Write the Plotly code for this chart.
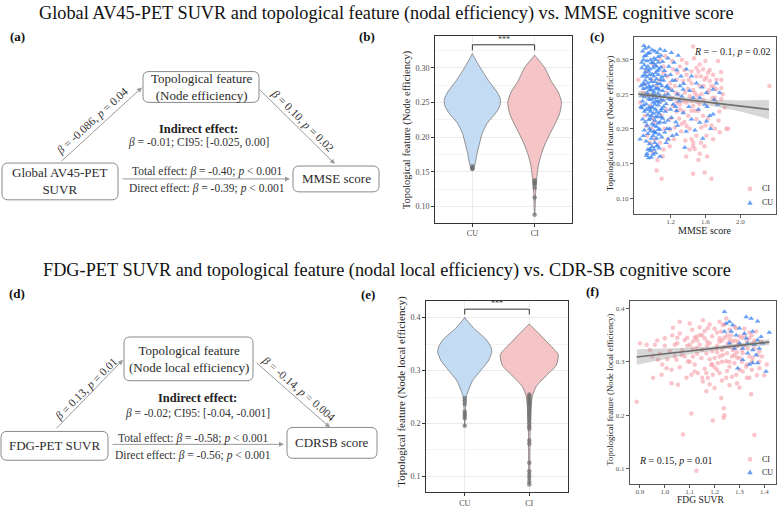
import plotly.graph_objects as go

W, H = 777, 508
def px(x): return x / W
def py(y): return 1 - y / H

SERIF = "Liberation Serif, Times New Roman, serif"

# ---------------- DATA ----------------
groups = ["CU", "CI"]

# (b) violin profiles: feature level and relative density (max = 1)
b_cu_levels = [0.153, 0.16, 0.175, 0.19, 0.205, 0.22, 0.235, 0.245, 0.255, 0.265, 0.28, 0.30, 0.32]
b_cu_dens   = [0.0, 0.09, 0.16, 0.25, 0.35, 0.53, 0.84, 0.98, 1.0, 0.88, 0.60, 0.28, 0.0]
b_ci_levels = [0.088, 0.10, 0.12, 0.14, 0.16, 0.175, 0.19, 0.205, 0.22, 0.235, 0.25, 0.265, 0.28, 0.30, 0.318]
b_ci_dens   = [0.0, 0.02, 0.035, 0.07, 0.14, 0.235, 0.375, 0.55, 0.74, 0.90, 0.96, 0.84, 0.60, 0.36, 0.0]
# (b) box statistics [CU, CI]
b_q1 = [0.227, 0.219]
b_med = [0.253, 0.244]
b_q3 = [0.271, 0.264]
b_lo = [0.160, 0.150]
b_hi = [0.320, 0.318]
b_out_cu = [0.158, 0.156, 0.155, 0.154]
b_out_ci = [0.138, 0.136, 0.134, 0.132, 0.127, 0.113, 0.088]

# (e) violin profiles
e_cu_levels = [0.195, 0.22, 0.25, 0.26, 0.28, 0.30, 0.32, 0.335, 0.345, 0.36, 0.38, 0.40]
e_cu_dens   = [0.0, 0.02, 0.05, 0.11, 0.26, 0.55, 0.83, 0.93, 0.90, 0.72, 0.31, 0.0]
e_ci_levels = [0.085, 0.10, 0.15, 0.20, 0.25, 0.27, 0.29, 0.31, 0.33, 0.34, 0.35, 0.37, 0.388]
e_ci_dens   = [0.0, 0.02, 0.025, 0.035, 0.10, 0.24, 0.58, 0.93, 1.0, 0.86, 0.68, 0.33, 0.0]
e_q1 = [0.316, 0.311]
e_med = [0.336, 0.328]
e_q3 = [0.355, 0.347]
e_lo = [0.257, 0.260]
e_hi = [0.400, 0.388]
e_out_cu = [0.248, 0.243, 0.237, 0.222, 0.218, 0.214, 0.210, 0.196]
e_out_ci = [0.255, 0.252, 0.249, 0.246, 0.243, 0.240, 0.237, 0.234, 0.230, 0.226, 0.222,
            0.218, 0.214, 0.210, 0.205, 0.200, 0.195, 0.190, 0.168, 0.162, 0.126, 0.110,
            0.103, 0.097, 0.090, 0.085]

# (c) scatter: MMSE score vs node efficiency
c_ci_pts = [(0.83,0.271),(1.459,0.319),(1.745,0.298),(1.497,0.288),(1.573,0.286),(1.63,0.281),
    (1.688,0.278),(1.726,0.271),(1.783,0.271),(2.335,0.262),(1.612,0.274),(1.497,0.276),(1.383,0.278),
    (1.269,0.271),(1.192,0.266),(1.345,0.269),(1.44,0.266),(1.535,0.262),(1.669,0.262),(1.63,0.252),
    (1.707,0.245),(1.783,0.243),(1.821,0.231),(1.84,0.2),(1.764,0.195),(1.688,0.185),(1.612,0.19),
    (1.554,0.202),(1.497,0.19),(1.44,0.185),(1.459,0.175),(1.478,0.171),(1.535,0.164),(1.459,0.135),
    (1.592,0.137),(1.669,0.128),(1.097,0.128),(1.04,0.14),(1.002,0.166),(0.964,0.18),(1.02,0.209),
    (1.097,0.219),(1.154,0.228),(1.23,0.233),(1.307,0.235),(1.383,0.238),(1.459,0.233),(1.516,0.226),
    (1.573,0.219),(1.402,0.219),(1.326,0.207),(1.25,0.202),(1.192,0.199),(1.383,0.204),(1.44,0.226),
    (1.497,0.214),(1.154,0.252),(1.212,0.245),(1.288,0.25),(1.364,0.252),(1.421,0.247),(1.478,0.252),
    (1.554,0.25),(1.497,0.24),(1.345,0.24),(1.269,0.238),(0.964,0.233),(0.907,0.219),(0.926,0.204),
    (0.888,0.252),(0.85,0.238),(0.983,0.271),(1.04,0.262),(1.116,0.281),(1.078,0.3),(1.002,0.293),
    (0.926,0.283),(1.23,0.286),(1.307,0.29),(1.383,0.295),(1.44,0.283),(1.535,0.293),(1.592,0.271),
    (1.65,0.269),(1.726,0.257),(1.783,0.259),(1.86,0.2),(1.12,0.17),(1.08,0.18),(1.05,0.155),
    (1.52,0.155),(1.62,0.16),(1.3,0.215),(1.35,0.225),(1.2,0.215),
    (1.12,0.29),(1.16,0.276),(1.2,0.258),(1.25,0.262),(1.28,0.281),(1.33,0.3),(1.36,0.285),
    (1.41,0.271),(1.46,0.256),(1.5,0.248),(1.55,0.276),(1.6,0.298),(1.64,0.256),(1.68,0.245),
    (1.72,0.238),(1.76,0.225),(1.8,0.25),(1.47,0.302),(1.52,0.283),(1.58,0.262),(1.27,0.225),
    (1.32,0.196),(1.37,0.183),(1.42,0.2),(1.48,0.226),(1.53,0.236),(1.58,0.242),(1.63,0.215),
    (1.67,0.205),(1.71,0.2),(1.75,0.212),(1.59,0.175),(1.55,0.18),(1.42,0.17),(1.38,0.16),
    (1.17,0.185),(1.13,0.2),(1.09,0.24),(1.07,0.27),(1.14,0.305),(1.22,0.298),(1.26,0.252),
    (1.31,0.228),(1.36,0.21),(1.4,0.258),(1.44,0.24),(1.65,0.285),(1.7,0.26),(1.78,0.282),
    (0.95,0.248),(0.9,0.265),(0.98,0.2),(1.0,0.215),(1.02,0.185),(0.93,0.19),(1.11,0.16),
    (1.19,0.175),(1.24,0.185),(1.6,0.205),(1.46,0.18)]
c_cu_pts = [(0.895,0.32),(1.02,0.312),(1.135,0.313),(1.288,0.306),(1.17,0.302),(1.383,0.286),
    (1.44,0.276),(1.497,0.266),(1.307,0.262),(1.345,0.257),(1.42,0.255),(1.612,0.252),(1.688,0.257),
    (1.764,0.252),(1.726,0.266),(1.535,0.245),(1.592,0.235),(1.65,0.219),(1.688,0.221),(1.612,0.211),
    (1.535,0.209),(1.44,0.214),(1.345,0.223),(1.269,0.226),(1.212,0.216),(1.135,0.195),(1.269,0.192),
    (1.173,0.185),(1.078,0.199),(1.02,0.195),(0.964,0.171),(0.926,0.161),(0.85,0.185),(1.364,0.173),
    (1.04,0.175),(0.888,0.19),
    (0.90,0.305),(0.93,0.298),(0.96,0.31),(0.98,0.295),(1.01,0.302),(1.04,0.29),(0.92,0.287),
    (0.95,0.283),(0.99,0.279),(1.03,0.281),(1.07,0.286),(1.10,0.275),(0.91,0.27),(0.94,0.266),
    (0.97,0.272),(1.00,0.262),(1.02,0.268),(1.05,0.259),(1.08,0.265),(1.12,0.27),(0.89,0.258),
    (0.93,0.252),(0.96,0.256),(0.99,0.248),(1.01,0.254),(1.04,0.245),(1.06,0.251),(1.09,0.242),
    (1.13,0.248),(0.88,0.24),(0.92,0.236),(0.95,0.243),(0.98,0.232),(1.00,0.238),(1.03,0.228),
    (1.06,0.234),(1.10,0.229),(1.15,0.236),(0.90,0.225),(0.94,0.22),(0.97,0.215),(1.00,0.222),
    (1.02,0.212),(1.05,0.218),(1.08,0.21),(1.11,0.215),(0.93,0.205),(0.96,0.2),(0.99,0.207),
    (1.01,0.196),(1.04,0.203),(1.07,0.192),(0.98,0.186),(1.02,0.18),(1.05,0.176),(0.97,0.168),
    (1.00,0.163),(0.95,0.158),(1.03,0.165),(1.18,0.29),(1.20,0.278),(1.16,0.262),(1.22,0.255),
    (1.25,0.27),(1.28,0.25),(1.18,0.244),(1.14,0.225),(1.17,0.212),(1.19,0.2),(1.23,0.235),
    (1.30,0.24),(1.26,0.21),(0.87,0.296),(0.905,0.278),(0.94,0.309),(1.06,0.296),(1.09,0.306),
    (0.87,0.23),(0.885,0.265),(0.97,0.26),(1.11,0.255),(1.03,0.24),(0.96,0.228),(1.07,0.222),
    (0.88,0.312),(0.91,0.316),(0.95,0.318),(0.99,0.314),(1.05,0.31),(1.08,0.315),(0.89,0.3),
    (0.92,0.306),(0.97,0.3),(1.00,0.296),(1.03,0.3),(1.06,0.304),(1.11,0.297),(0.87,0.288),
    (0.9,0.292),(0.94,0.29),(0.96,0.286),(1.0,0.288),(1.02,0.292),(1.05,0.284),(1.09,0.289),
    (1.13,0.284),(0.88,0.276),(0.91,0.282),(0.93,0.275),(0.96,0.278),(0.98,0.268),(1.01,0.276),
    (1.04,0.272),(1.06,0.278),(1.09,0.271),(1.14,0.277),(0.86,0.262),(0.9,0.264),(0.92,0.259),
    (0.95,0.261),(0.98,0.256),(1.0,0.25),(1.03,0.258),(1.05,0.265),(1.07,0.256),(1.1,0.262),
    (1.15,0.26),(0.87,0.248),(0.9,0.246),(0.94,0.248),(0.97,0.242),(1.0,0.244),(1.02,0.249),
    (1.05,0.24),(1.08,0.247),(1.12,0.241),(1.17,0.25),(0.86,0.232),(0.89,0.234),(0.92,0.228),
    (0.95,0.231),(0.97,0.225),(1.0,0.23),(1.02,0.235),(1.04,0.224),(1.07,0.238),(1.09,0.226),
    (1.12,0.232),(1.2,0.228),(0.88,0.214),(0.91,0.21),(0.95,0.213),(0.98,0.219),(1.01,0.205),
    (1.03,0.217),(1.06,0.208),(1.09,0.217),(1.13,0.209),(0.9,0.198),(0.94,0.193),(0.97,0.197),
    (1.0,0.19),(1.03,0.194),(1.06,0.199),(1.1,0.188),(0.92,0.182),(0.96,0.178),(0.99,0.174),
    (1.04,0.186),(1.07,0.172),(0.94,0.17),(0.98,0.159),(1.01,0.17),(1.08,0.16),(0.93,0.164),
    (1.21,0.31),(1.24,0.296),(1.27,0.285),(1.22,0.27),(1.32,0.276),(1.35,0.265),(1.18,0.258),
    (1.2,0.242),(1.26,0.232),(1.33,0.247),(1.16,0.2),(1.22,0.19),(1.28,0.205),(1.15,0.18),
    (1.38,0.196),(1.41,0.232),(1.46,0.245),(1.52,0.228),(1.56,0.26),(1.62,0.232),(1.7,0.242),
    (1.74,0.235),(1.48,0.198),(1.57,0.186),(1.66,0.2)]
c_fit_x = [0.83, 1.2, 1.6, 2.0, 2.33]
c_fit_y = [0.2503, 0.2448, 0.2388, 0.2329, 0.2280]
c_fit_se = [0.005, 0.003, 0.004, 0.008, 0.014]

# (f) scatter: FDG SUVR vs node local efficiency
f_ci_pts = [(0.887,0.225),(0.9,0.335),(1.107,0.203),(1.073,0.164),(1.127,0.096),(1.193,0.19),
    (1.237,0.213),(1.236,0.195),(1.24,0.2),(1.26,0.256),(1.36,0.163),(1.347,0.239),(1.2,0.251),
    (1.22,0.279),(1.167,0.279),(1.227,0.232),(1.3,0.252),(1.353,0.307),(0.94,0.322),(0.96,0.332),
    (1.0,0.344),(1.033,0.364),(1.06,0.353),(1.04,0.332),(1.007,0.288),(1.027,0.285),(1.047,0.304),
    (1.067,0.313),(1.093,0.301),(1.1,0.332),(1.113,0.338),(1.127,0.347),(1.14,0.35),(1.153,0.378),
    (1.16,0.344),(1.173,0.363),(1.18,0.335),(1.12,0.282),(1.133,0.279),(1.107,0.276),(1.087,0.27),
    (1.147,0.307),(1.167,0.316),(1.187,0.294),(1.2,0.307),(1.207,0.325),(1.22,0.344),(1.227,0.357),
    (1.233,0.369),(1.247,0.381),(1.253,0.335),(1.267,0.35),(1.273,0.322),(1.28,0.313),(1.287,0.363),
    (1.293,0.338),(1.3,0.307),(1.313,0.316),(1.32,0.35),(1.327,0.291),(1.333,0.325),(1.34,0.344),
    (1.353,0.335),(1.367,0.357),(1.373,0.313),(1.38,0.288),(1.387,0.338),(1.233,0.313),(1.247,0.301),
    (1.26,0.291),(1.213,0.298),(1.193,0.276),(1.173,0.27),(1.153,0.263),(1.247,0.27),(1.287,0.276),
    (1.313,0.282),(1.34,0.27),(1.053,0.257),(1.027,0.26),(1.167,0.245),(1.127,0.326),(1.113,0.31),
    (1.08,0.341),(0.973,0.304),(0.987,0.276),(0.953,0.27),(0.927,0.332),(1.21,0.33),(1.23,0.322),
    (1.25,0.316),(1.22,0.338),(1.24,0.345),(1.26,0.328),(1.28,0.34),(1.30,0.332),(1.29,0.318),
    (1.31,0.345),(1.27,0.31),(1.19,0.348),(1.17,0.33),(1.15,0.322),(1.13,0.315),(1.21,0.355),
    (1.26,0.36),(1.32,0.362),(1.34,0.31),(1.36,0.325),(1.18,0.305),(1.23,0.3),(1.33,0.295),
    (1.35,0.285),(1.38,0.3),(1.11,0.36),(1.09,0.345),(1.05,0.335),(1.02,0.32),(1.08,0.31),
    (1.12,0.295),(1.20,0.29),(1.16,0.287),(1.28,0.298),(1.30,0.285),(1.25,0.283),(1.37,0.275),
    (1.14,0.365),(1.10,0.372),(1.06,0.375),(1.0,0.33),(0.98,0.315),
    (1.21,0.318),(1.23,0.34),(1.25,0.35),(1.27,0.338),(1.29,0.33),(1.31,0.322),(1.33,0.34),
    (1.35,0.35),(1.19,0.32),(1.17,0.338),(1.15,0.35),(1.13,0.34),(1.11,0.325),(1.09,0.33),
    (1.07,0.322),(1.05,0.345),(1.03,0.35),(1.01,0.305),(0.99,0.295),(1.22,0.31),(1.24,0.328),
    (1.26,0.343),(1.28,0.325),(1.3,0.348),(1.32,0.33),(1.34,0.355),(1.36,0.34),(1.38,0.32),
    (1.2,0.362),(1.18,0.37),(1.16,0.358),(1.24,0.37),(1.28,0.366),(1.22,0.375),(1.12,0.345),
    (1.14,0.332),(1.19,0.296),(1.21,0.285),(1.26,0.3),(1.31,0.3),(1.29,0.308),(1.35,0.3),
    (1.39,0.31),(1.23,0.265),(1.27,0.272),(1.1,0.3),(1.06,0.29),(1.04,0.31),(0.97,0.34),
    (0.95,0.31),(1.4,0.275),(1.41,0.295),(1.18,0.258),(1.33,0.27),(1.29,0.26),(1.15,0.27)]
f_cu_pts = [(1.24,0.394),(1.26,0.375),(1.273,0.369),(1.247,0.372),(1.327,0.384),(1.347,0.381),
    (1.373,0.376),(1.353,0.357),(1.287,0.35),(1.267,0.357),(1.3,0.335),(1.313,0.325),(1.333,0.335),
    (1.353,0.322),(1.373,0.341),(1.387,0.347),(1.42,0.355),(1.393,0.335),(1.407,0.282),(1.293,0.288),
    (1.313,0.304),(1.333,0.316),(1.353,0.298),(1.373,0.298),(1.34,0.295),(1.26,0.335),(1.28,0.325),
    (1.32,0.353),(1.36,0.332),(1.3,0.363),(1.38,0.325),(1.367,0.313),(1.327,0.344),(1.24,0.357)]
f_fit_x = [0.887, 1.0, 1.1, 1.2, 1.3, 1.42]
f_fit_y = [0.309, 0.3149, 0.3202, 0.3254, 0.3307, 0.337]
f_fit_se = [0.0145, 0.0095, 0.006, 0.004, 0.004, 0.006]

# ---------------- STYLE ----------------
CU_FILL = "rgb(196,219,244)"
CI_FILL = "rgb(245,196,199)"
CU_PT = "rgba(55,130,240,0.75)"
CI_PT = "rgba(244,150,158,0.55)"
VW = 0.45

fig = go.Figure()

def add_violin_panel(xa, ya, prof, q1, med, q3, lo, hi, outs):
    for i, (lev, dens) in enumerate(prof):
        fill = CU_FILL if i == 0 else CI_FILL
        xs = [i + VW * d for d in dens] + [i - VW * d for d in reversed(dens)]
        ys = list(lev) + list(reversed(lev))
        fig.add_trace(go.Scatter(x=xs, y=ys, mode="lines", fill="toself", fillcolor=fill,
                                 line=dict(color="#7a7a7a", width=0.8, shape="spline", smoothing=0.6),
                                 xaxis=xa, yaxis=ya, showlegend=False, hoverinfo="skip"))
    fig.add_trace(go.Box(x=[0, 1], q1=q1, median=med, q3=q3, lowerfence=lo, upperfence=hi,
                         width=0.11, whiskerwidth=0, fillcolor="rgba(0,0,0,0)",
                         line=dict(color="#7f7f7f", width=1), boxpoints=False,
                         xaxis=xa, yaxis=ya, showlegend=False))
    for i, o in enumerate(outs):
        fig.add_trace(go.Scatter(x=[i] * len(o), y=o, mode="markers",
                                 marker=dict(color="rgba(110,110,110,0.7)", size=4.5),
                                 xaxis=xa, yaxis=ya, showlegend=False))

add_violin_panel("x", "y", [(b_cu_levels, b_cu_dens), (b_ci_levels, b_ci_dens)],
                 b_q1, b_med, b_q3, b_lo, b_hi, [b_out_cu, b_out_ci])
add_violin_panel("x3", "y3", [(e_cu_levels, e_cu_dens), (e_ci_levels, e_ci_dens)],
                 e_q1, e_med, e_q3, e_lo, e_hi, [e_out_cu, e_out_ci])

def add_scatter_panel(xa, ya, ci_pts, cu_pts, fx, fy, fse):
    fig.add_trace(go.Scatter(x=[p[0] for p in ci_pts], y=[p[1] for p in ci_pts], mode="markers",
                             marker=dict(color=CI_PT, size=4.5, symbol="circle"),
                             xaxis=xa, yaxis=ya, showlegend=False, name="CI"))
    fig.add_trace(go.Scatter(x=[p[0] for p in cu_pts], y=[p[1] for p in cu_pts], mode="markers",
                             marker=dict(color=CU_PT, size=5, symbol="triangle-up"),
                             xaxis=xa, yaxis=ya, showlegend=False, name="CU"))
    up = [a + b for a, b in zip(fy, fse)]
    dn = [a - b for a, b in zip(fy, fse)]
    fig.add_trace(go.Scatter(x=list(fx) + list(reversed(fx)), y=up + list(reversed(dn)),
                             mode="lines", fill="toself", fillcolor="rgba(140,140,140,0.35)",
                             line=dict(width=0), xaxis=xa, yaxis=ya, showlegend=False,
                             hoverinfo="skip"))
    fig.add_trace(go.Scatter(x=fx, y=fy, mode="lines", line=dict(color="#6e6e6e", width=1.6),
                             xaxis=xa, yaxis=ya, showlegend=False))

add_scatter_panel("x2", "y2", c_ci_pts, c_cu_pts, c_fit_x, c_fit_y, c_fit_se)
add_scatter_panel("x4", "y4", f_ci_pts, f_cu_pts, f_fit_x, f_fit_y, f_fit_se)

# ---------------- AXES ----------------
def vio_x(dom, anchor, size):
    return dict(domain=dom, anchor=anchor, range=[-0.6, 1.6], tickvals=[0, 1], ticktext=groups,
                showline=True, mirror=True, linecolor="#333333", linewidth=1,
                ticks="outside", ticklen=3, tickcolor="#333333", showgrid=True,
                gridcolor="#ebebeb", gridwidth=1, zeroline=False,
                tickfont=dict(family=SERIF, size=size, color="#4d4d4d"))

def vio_y(dom, anchor, rng, dtick, fmt, size):
    return dict(domain=dom, anchor=anchor, range=rng, dtick=dtick, tick0=0, tickformat=fmt,
                showline=True, mirror=True, linecolor="#333333", linewidth=1,
                ticks="outside", ticklen=3, tickcolor="#333333", showgrid=True,
                gridcolor="#ebebeb", gridwidth=1, zeroline=False,
                minor=dict(dtick=dtick / 2, tick0=0, showgrid=True, gridcolor="#f4f4f4", gridwidth=0.6),
                tickfont=dict(family=SERIF, size=size, color="#4d4d4d"))

def sc_ax(dom, anchor, rng, tickvals, fmt, size, standoff=0):
    return dict(domain=dom, anchor=anchor, range=rng, tickvals=tickvals, tickformat=fmt,
                showline=True, mirror=True, linecolor="#555555", linewidth=1,
                ticks="outside", ticklen=3, tickcolor="#555555", showgrid=False, zeroline=False,
                ticklabelstandoff=standoff,
                tickfont=dict(family=SERIF, size=size, color="#555555"))

fig.update_layout(
    xaxis=vio_x([px(435), px(572)], "y", 8),
    yaxis=vio_y([py(224), py(36)], "x", [0.0767, 0.346], 0.05, ".2f", 8),
    xaxis2=sc_ax([px(634), px(776)], "y2", [0.781, 2.41], [1.2, 1.6, 2.0], ".1f", 7, -2),
    yaxis2=sc_ax([py(215), py(37)], "x2", [0.0774, 0.333], [0.10, 0.15, 0.20, 0.25, 0.30], ".2f", 7),
    xaxis3=vio_x([px(426), px(568)], "y3", 8),
    yaxis3=vio_y([py(495), py(303)], "x3", [0.0705, 0.431], 0.1, ".1f", 8),
    xaxis4=sc_ax([px(630), px(776)], "y4", [0.86, 1.447], [0.9, 1.0, 1.1, 1.2, 1.3, 1.4], ".1f", 7, -3),
    yaxis4=sc_ax([py(487), py(303)], "x4", [0.0708, 0.4136], [0.1, 0.2, 0.3, 0.4], ".1f", 7),
)

# ---------------- ANNOTATIONS / SHAPES ----------------
ann = []
shapes = []

def text(x, y, t, size, color="#222222", angle=0, bold=False, xanchor="center"):
    if bold:
        t = "<b>" + t + "</b>"
    ann.append(dict(x=px(x), y=py(y), xref="paper", yref="paper", text=t, showarrow=False,
                    textangle=angle, xanchor=xanchor, yanchor="middle",
                    font=dict(family=SERIF, size=size, color=color)))

def arrow(tx, ty, hx, hy):
    ann.append(dict(x=px(hx), y=py(hy), xref="paper", yref="paper", text="",
                    showarrow=True, ax=tx - hx, ay=ty - hy, axref="pixel", ayref="pixel",
                    arrowhead=2, arrowsize=1, arrowwidth=1, arrowcolor="#9a9a9a"))

def rbox(x0, y0, x1, y1, t, size=13, r=6):
    path = (f"M {px(x0+r)},{py(y0)} L {px(x1-r)},{py(y0)} Q {px(x1)},{py(y0)} {px(x1)},{py(y0+r)} "
            f"L {px(x1)},{py(y1-r)} Q {px(x1)},{py(y1)} {px(x1-r)},{py(y1)} "
            f"L {px(x0+r)},{py(y1)} Q {px(x0)},{py(y1)} {px(x0)},{py(y1-r)} "
            f"L {px(x0)},{py(y0+r)} Q {px(x0)},{py(y0)} {px(x0+r)},{py(y0)} Z")
    shapes.append(dict(type="path", path=path, xref="paper", yref="paper",
                       line=dict(color="#8a8a8a", width=1), fillcolor="white", layer="below"))
    text((x0 + x1) / 2, (y0 + y1) / 2, t, size, color="#2a2a2a")

B = "<i>β</i>"
P = "<i>p</i>"

# titles
text(386, 14, "Global AV45-PET SUVR and topological feature (nodal efficiency) vs. MMSE cognitive score", 18.3, "#111111")
text(387, 272, "FDG-PET SUVR and topological feature (nodal local efficiency) vs. CDR-SB cognitive score", 18.3, "#111111")

# panel labels
for lab, x, y in [("(a)", 17, 37), ("(b)", 367, 37), ("(c)", 597, 37),
                  ("(d)", 17, 295), ("(e)", 368, 296), ("(f)", 592, 293)]:
    text(x, y, lab, 13, "#111111", bold=True)

# (a) mediation diagram
rbox(143, 72, 259, 103, "Topological feature<br>(Node efficiency)")
rbox(2, 164, 118, 201, "Global AV45-PET<br>SUVR")
rbox(293, 167, 379, 193, "MMSE score")
arrow(60, 163, 142, 88)
arrow(258, 89, 335, 165)
arrow(121, 180, 290, 180)
text(92, 122, f"{B} = -0.086, {P} = 0.04", 11.5, "#333333", angle=-42.5)
text(302, 121, f"{B} = 0.10, {P} = 0.02", 11.5, "#333333", angle=45)
text(198, 130, "Indirect effect:", 12.5, "#222222", bold=True)
text(198, 143, f"{B} = -0.01; CI95: [-0.025, 0.00]", 11.5, "#333333")
text(207, 172.5, f"Total effect: {B} = -0.40; {P} &lt; 0.001", 11.5, "#333333")
text(207, 190, f"Direct effect: {B} = -0.39; {P} &lt; 0.001", 11.5, "#333333")

# (d) mediation diagram
rbox(124, 339, 253, 383, "Topological feature<br>(Node local efficiency)")
rbox(1, 434, 108, 463, "FDG-PET SUVR")
rbox(287, 430, 377, 461, "CDRSB score")
arrow(55, 432, 123, 362)
arrow(255, 364, 330, 430)
arrow(111, 447, 284, 447)
text(86, 392, f"{B} = 0.13, {P} = 0.01", 11.5, "#333333", angle=-45)
text(298, 391, f"{B} = -0.14, {P} = 0.004", 11.5, "#333333", angle=41)
text(197, 400, "Indirect effect:", 12.5, "#222222", bold=True)
text(197, 416, f"{B} = -0.02; CI95: [-0.04, -0.001]", 11.5, "#333333")
text(193, 441.5, f"Total effect: {B} = -0.58; {P} &lt; 0.001", 11.5, "#333333")
text(193, 458, f"Direct effect: {B} = -0.56; {P} &lt; 0.001", 11.5, "#333333")

# axis titles
text(407, 131, "Topological feature (Node efficiency)", 10.5, "#222222", angle=-90)
text(610, 124, "Topological feature (Node efficiency)", 9, "#222222", angle=-90)
text(705, 232, "MMSE score", 10, "#222222")
text(402, 394, "Topological feature (Node local efficiency)", 11, "#222222", angle=-90)
text(610, 392, "Topological feature (Node local efficiency)", 8.8, "#222222", angle=-90)
text(700, 502.5, "FDG SUVR", 9.5, "#222222")

# R annotations
text(773, 52, "<i>R</i> = − 0.1, <i>p</i> = 0.02", 10, "#222222", xanchor="right")
text(637, 463, "<i>R</i> = 0.15, <i>p</i> = 0.01", 10, "#222222", xanchor="left")

# significance brackets
def bracket(xa, ya, ytop, ylow, ystar):
    shapes.append(dict(type="path", xref=xa, yref=ya,
                       path=f"M 0,{ylow} L 0,{ytop} L 1,{ytop} L 1,{ylow}",
                       line=dict(color="#333333", width=1)))
    ann.append(dict(x=0.5, y=ystar, xref=xa, yref=ya, text="***", showarrow=False,
                    font=dict(family=SERIF, size=8, color="#333333")))

bracket("x", "y", 0.333, 0.325, 0.340)
bracket("x3", "y3", 0.416, 0.406, 0.426)

# legends inside scatter panels
def legend_keys(y_ci, y_cu):
    rx, ry = 2.4, 2.4
    shapes.append(dict(type="circle", xref="paper", yref="paper",
                       x0=px(750 - rx), x1=px(750 + rx), y0=py(y_ci + ry), y1=py(y_ci - ry),
                       fillcolor=CI_PT, line=dict(width=0)))
    shapes.append(dict(type="path", xref="paper", yref="paper",
                       path=f"M {px(747.3)},{py(y_cu + 2)} L {px(752.7)},{py(y_cu + 2)} L {px(750)},{py(y_cu - 2.8)} Z",
                       fillcolor=CU_PT, line=dict(width=0)))
    text(760, y_ci, "CI", 8, "#222222", xanchor="left")
    text(760, y_cu, "CU", 8, "#222222", xanchor="left")

legend_keys(190, 204)
legend_keys(462, 475)

fig.update_layout(
    width=W, height=H, margin=dict(l=0, r=0, t=0, b=0),
    paper_bgcolor="white", plot_bgcolor="white",
    annotations=ann, shapes=shapes, showlegend=False,
    font=dict(family=SERIF),
)

fig.write_html(
    "out.html",
    config={"displayModeBar": False},
    post_script="document.body.style.margin='0';document.body.style.padding='0';"
                "document.body.style.overflow='hidden';",
)
